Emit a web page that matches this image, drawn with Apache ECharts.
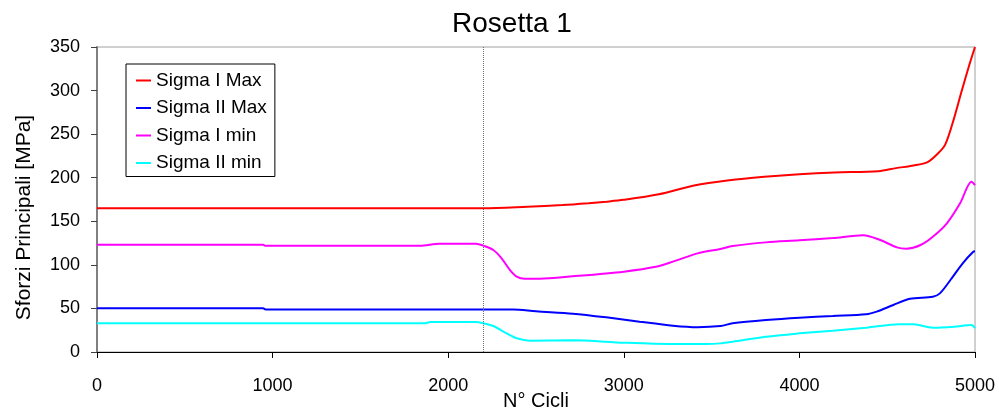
<!DOCTYPE html>
<html>
<head>
<meta charset="utf-8">
<script src="https://cdn.jsdelivr.net/npm/echarts@6/dist/echarts.min.js"></script>
<style>
html,body{margin:0;padding:0;background:#fff;}
#chart{width:999px;height:410px;}
</style>
</head>
<body>
<div id="chart"></div>
<script>
var seriesNames = ['Sigma I Max', 'Sigma II Max', 'Sigma I min', 'Sigma II min'];
var seriesColors = ['#ff0000', '#0000ff', '#ff00ff', '#00ffff'];

var sigmaIMaxX = [0, 2200, 2450, 2650, 2800, 2900, 3000, 3200, 3400, 3600, 3800, 4000, 4200, 4450, 4550, 4650, 4730, 4790, 4830, 4870, 4925, 4970, 5000];
var sigmaIMaxY = [165, 165, 166.8, 168.7, 170.8, 172.5, 174.6, 181, 191, 197, 201, 204, 206, 207.5, 211, 214, 218, 228, 238, 261, 300, 331, 350];

var sigmaIIMaxX = [0, 946, 960, 2370, 2500, 2710, 2900, 3090, 3280, 3420, 3550, 3620, 3810, 4000, 4190, 4380, 4440, 4535, 4630, 4760, 4800, 4860, 4930, 4990, 5000];
var sigmaIIMaxY = [50.1, 50.1, 48.8, 48.8, 46.7, 44, 39.8, 34.8, 30.2, 28.5, 29.8, 32.9, 36.7, 39.4, 41.3, 43.2, 46.3, 54, 61, 63.5, 67.3, 82.6, 101.8, 115, 115.5];

var sigmaIminX = [0, 946, 960, 1840, 1950, 2160, 2200, 2257, 2304, 2352, 2390, 2437, 2520, 2710, 3000, 3190, 3280, 3420, 3550, 3620, 3810, 4000, 4190, 4364, 4460, 4555, 4610, 4690, 4760, 4840, 4915, 4980, 5000];
var sigmaIminY = [123, 123, 121.8, 121.8, 124.3, 124.3, 122, 117, 107.5, 94, 86.5, 84, 84, 86.8, 92.2, 98, 103.7, 113.2, 118.2, 121.6, 125.8, 128.1, 130.8, 133.9, 128.5, 120.1, 118.6, 122.8, 132.3, 147.7, 170.6, 195.5, 191.6];

var sigmaIIminX = [0, 1860, 1900, 2160, 2200, 2257, 2333, 2390, 2466, 2710, 3000, 3280, 3470, 3550, 3620, 3810, 4000, 4190, 4380, 4570, 4650, 4760, 4880, 4980, 5000];
var sigmaIIminY = [32.9, 32.9, 34.4, 34.4, 32.9, 29.8, 21.4, 15.7, 13, 13.4, 10.7, 9.2, 9.2, 9.9, 11.8, 17.6, 21.4, 24.5, 27.9, 31.8, 31.8, 27.9, 29, 31, 27.2];

var markerCycle = 2200;

function pairs(xs, ys) {
  return xs.map(function (x, i) { return [x, ys[i]]; });
}

var allX = [sigmaIMaxX, sigmaIIMaxX, sigmaIminX, sigmaIIminX];
var allY = [sigmaIMaxY, sigmaIIMaxY, sigmaIminY, sigmaIIminY];
var FONT = "'Liberation Sans', Arial, sans-serif";

var series = seriesNames.map(function (name, i) {
  var s = {
    name: name,
    type: 'line',
    data: pairs(allX[i], allY[i]),
    showSymbol: false,
    symbol: 'none',
    smooth: 0.3,
    lineStyle: { color: seriesColors[i], width: 2 },
    itemStyle: { color: seriesColors[i] },
    z: 3
  };
  if (i === 0) {
    s.markLine = {
      silent: true,
      symbol: ['none', 'none'],
      label: { show: false },
      lineStyle: { type: 'dotted', color: '#707070', width: 1 },
      data: [{ xAxis: markerCycle }]
    };
  }
  return s;
});

var chart = echarts.init(document.getElementById('chart'));
chart.setOption({
  animation: false,
  backgroundColor: '#ffffff',
  textStyle: { fontFamily: FONT },
  title: {
    text: 'Rosetta 1',
    left: 507,
    textAlign: 'center',
    top: 5,
    textStyle: { fontFamily: FONT, fontSize: 28, fontWeight: 'normal', color: '#000' }
  },
  legend: {
    data: seriesNames,
    orient: 'vertical',
    left: 126,
    top: 64,
    backgroundColor: '#fff',
    borderColor: '#000',
    borderWidth: 1,
    padding: [7, 8, 4, 10],
    itemGap: 8.5,
    icon: 'rect',
    itemWidth: 15,
    itemHeight: 2,
    textStyle: { fontFamily: FONT, fontSize: 19, color: '#000' }
  },
  grid: {
    left: 97, right: 24, top: 47, bottom: 58,
    containLabel: false,
    outerBoundsMode: 'none',
    show: true, borderColor: '#a0a0a0', borderWidth: 1
  },
  xAxis: {
    type: 'value',
    min: 0, max: 5000, interval: 1000,
    name: 'N° Cicli',
    nameLocation: 'middle',
    nameGap: 39,
    nameMoveOverlap: false,
    nameTextStyle: { fontFamily: FONT, fontSize: 20, color: '#000' },
    axisLine: { lineStyle: { color: '#000', width: 1 } },
    axisTick: { show: true, length: 6, lineStyle: { color: '#000' } },
    axisLabel: { fontFamily: FONT, fontSize: 18, color: '#000', margin: 25, formatter: function (v) { return String(v); } },
    splitLine: { show: false }
  },
  yAxis: {
    type: 'value',
    min: 0, max: 350, interval: 50,
    name: 'Sforzi Principali [MPa]',
    nameLocation: 'middle',
    nameGap: 62,
    nameRotate: 90,
    nameMoveOverlap: false,
    nameTextStyle: { fontFamily: FONT, fontSize: 21, color: '#000', padding: [0, 36, 0, 0] },
    axisLine: { show: true, lineStyle: { color: '#808080', width: 2 } },
    axisTick: { show: true, length: 6, lineStyle: { color: '#404040' } },
    axisLabel: { fontFamily: FONT, fontSize: 18, color: '#000', margin: 17, formatter: function (v) { return String(v); } },
    splitLine: { show: false }
  },
  series: series
});
</script>
</body>
</html>
